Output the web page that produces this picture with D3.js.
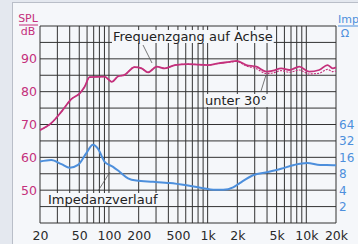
<!DOCTYPE html>
<html>
<head>
<meta charset="utf-8">
<script src="https://cdn.jsdelivr.net/npm/d3@7"></script>
<style>
  body { margin: 0; background: #e4e8ef; }
  svg { display: block; }
  text { font-family: "DejaVu Sans", Arial, sans-serif; }
</style>
</head>
<body>
<svg id="chart" width="358" height="244"></svg>
<script>
// Frequenzgang (dB SPL)
const splFreq = [20, 26, 33, 41.5, 50.5, 56.7, 63.5, 90, 107, 123, 144, 182, 214, 249, 305, 368, 467, 634, 1010, 1277, 1675, 1955, 2470, 3120, 3930, 4590, 5570, 6740, 8490, 10700, 13500, 16400, 18500, 20000];
const splAxis = [68.3, 70.4, 73.9, 77.7, 79.5, 81.5, 84.4, 84.6, 83, 84.6, 85.1, 87.5, 87.1, 85.9, 87.6, 87.1, 88.1, 88.4, 88.1, 88.6, 89.1, 89.4, 88.1, 87.6, 86.1, 86.4, 87.1, 86.6, 87.6, 86.1, 86.6, 88.1, 87.1, 87.4];
const spl30 = [68.3, 70.4, 73.9, 77.7, 79.5, 81.5, 84.4, 84.6, 83, 84.6, 85.1, 87.5, 87.1, 85.9, 87.6, 87.1, 88.1, 88.4, 88.1, 88.6, 89.0, 89.2, 87.8, 87.0, 85.5, 85.7, 86.4, 85.9, 86.6, 85.4, 85.6, 86.8, 86.1, 86.3];

// Impedanzverlauf (Ohm)
const impFreq = [20, 26, 33, 40, 48.6, 58.8, 68.7, 77, 90, 110, 128, 156, 189, 281, 415, 612, 903, 1141, 1440, 1813, 2116, 2880, 4090, 5550, 7530, 10200, 13800, 18700, 20000];
const impOhm = [13.4, 14.3, 12.0, 10.3, 11.6, 18.9, 27.1, 23.3, 13.4, 10.7, 8.7, 6.6, 6.0, 5.7, 5.4, 4.9, 4.35, 4.06, 4.06, 4.5, 5.4, 7.5, 8.6, 9.85, 11.6, 12.6, 11.6, 11.5, 11.4];

const freqTicks = [20, 50, 100, 200, 500, 1000, 2000, 5000, 10000, 20000];
const freqTickLabels = ["20", "50", "100", "200", "500", "1k", "2k", "5k", "10k", "20k"];
const dbTicks = [50, 60, 70, 80, 90];
const ohmTicks = [2, 4, 8, 16, 32, 64];

const magenta = "#c4307c";
const blue = "#4d8fdc";
const gridColor = "#333";
const font = "DejaVu Sans, Arial, sans-serif";

const svg = d3.select("#chart");
const mLeft = 40, mRight = 336, mTop = 26, mBottom = 223;

// Papier / Rahmen
svg.append("rect").attr("x", 12.5).attr("y", 2.5).attr("width", 350).attr("height", 250)
    .attr("fill", "#f5f7fa").attr("stroke", "#b9bec8").attr("stroke-width", 1);

const x = d3.scaleLog().domain([20, 20000]).range([mLeft, mRight]);
const y = d3.scaleLinear().domain([40, 100]).range([mBottom, mTop]);
// Impedanz: 2 Ohm auf 45 dB, Faktor 2 je 5 dB
const yImp = d3.scaleLog().base(2).domain([2, 64]).range([y(45), y(70)]);

// Gitter vertikal
const vLines = [];
[10, 100, 1000, 10000].forEach(dec => {
    for (let m = 1; m <= 9; m++) {
        const f = dec * m;
        if (f >= 20 && f <= 20000) vLines.push(f);
    }
});

svg.append("g").selectAll("line")
    .data(vLines)
    .enter().append("line")
    .attr("x1", d => x(d)).attr("x2", d => x(d))
    .attr("y1", mTop).attr("y2", mBottom)
    .attr("stroke", gridColor).attr("stroke-width", 1);

// Gitter horizontal (alle 5 dB)
svg.append("g").selectAll("line")
    .data(d3.range(40, 101, 5))
    .enter().append("line")
    .attr("x1", mLeft).attr("x2", mRight)
    .attr("y1", d => y(d)).attr("y2", d => y(d))
    .attr("stroke", gridColor).attr("stroke-width", 1);

// Achsenbeschriftung unten
const xAxis = svg.append("g")
    .attr("transform", "translate(0," + mBottom + ")")
    .call(d3.axisBottom(x).tickValues(freqTicks).tickFormat((d, i) => freqTickLabels[i]).tickSize(0).tickPadding(8));
xAxis.select(".domain").remove();
xAxis.selectAll("text").attr("font-size", 12.5).attr("fill", "#2a2a2a")
    .attr("font-family", font);

// Achse links (dB)
const yAxis = svg.append("g")
    .attr("transform", "translate(" + mLeft + ",0)")
    .call(d3.axisLeft(y).tickValues(dbTicks).tickSize(0).tickPadding(3));
yAxis.select(".domain").remove();
yAxis.selectAll("text").attr("font-size", 12.5).attr("fill", magenta)
    .attr("font-family", font);

// Achse rechts (Ohm)
const rAxis = svg.append("g")
    .attr("transform", "translate(" + mRight + ",0)")
    .call(d3.axisRight(yImp).tickValues(ohmTicks).tickFormat(d3.format("d")).tickSize(0).tickPadding(3));
rAxis.select(".domain").remove();
rAxis.selectAll("text").attr("font-size", 12).attr("fill", blue)
    .attr("font-family", font);

// Einheiten
svg.append("text").attr("x", 28).attr("y", 22).attr("text-anchor", "middle")
    .attr("font-size", 11).attr("fill", magenta).text("SPL");
svg.append("line").attr("x1", 19).attr("x2", 38).attr("y1", 25).attr("y2", 25)
    .attr("stroke", magenta).attr("stroke-width", 1);
svg.append("text").attr("x", 28).attr("y", 35).attr("text-anchor", "middle")
    .attr("font-size", 11).attr("fill", magenta).text("dB");

svg.append("text").attr("x", 338).attr("y", 23)
    .attr("font-size", 11).attr("fill", blue).text("Imp");
svg.append("line").attr("x1", 338).attr("x2", 358).attr("y1", 26).attr("y2", 26)
    .attr("stroke", blue).attr("stroke-width", 1);
svg.append("text").attr("x", 345).attr("y", 37).attr("text-anchor", "middle")
    .attr("font-size", 11).attr("fill", blue).text("Ω");

// Kurven
const line = d3.line().curve(d3.curveMonotoneX);

svg.append("path")
    .attr("d", line(splFreq.map((f, i) => [x(f), y(spl30[i])])))
    .attr("fill", "none").attr("stroke", magenta).attr("stroke-width", 1.1)
    .attr("stroke-dasharray", "2,1.2");

svg.append("path")
    .attr("d", line(splFreq.map((f, i) => [x(f), y(splAxis[i])])))
    .attr("fill", "none").attr("stroke", magenta).attr("stroke-width", 1.8);

svg.append("path")
    .attr("d", line(impFreq.map((f, i) => [x(f), yImp(impOhm[i])])))
    .attr("fill", "none").attr("stroke", blue).attr("stroke-width", 2);

// Beschriftungen mit Hinweislinien
const labels = [
    { text: "Frequenzgang auf Achse", x: 113, y: 41, lx1: 143, ly1: 45, lx2: 152, ly2: 63 },
    { text: "unter 30°", x: 205, y: 105, lx1: 261, ly1: 91, lx2: 266, ly2: 75 },
    { text: "Impedanzverlauf", x: 48, y: 204, lx1: 98, ly1: 191, lx2: 110, ly2: 172 }
];

labels.forEach(l => {
    svg.append("line")
        .attr("x1", l.lx1).attr("y1", l.ly1).attr("x2", l.lx2).attr("y2", l.ly2)
        .attr("stroke", "#555").attr("stroke-width", 0.8);
    const bg = svg.append("rect").attr("fill", "#f5f7fa");
    const t = svg.append("text")
        .attr("x", l.x).attr("y", l.y)
        .attr("font-size", 13).attr("fill", "#222")
        .attr("font-family", font)
        .text(l.text);
    const bb = t.node().getBBox();
    bg.attr("x", bb.x - 1).attr("y", bb.y + 1).attr("width", bb.width + 2).attr("height", bb.height - 2);
});
</script>
</body>
</html>
